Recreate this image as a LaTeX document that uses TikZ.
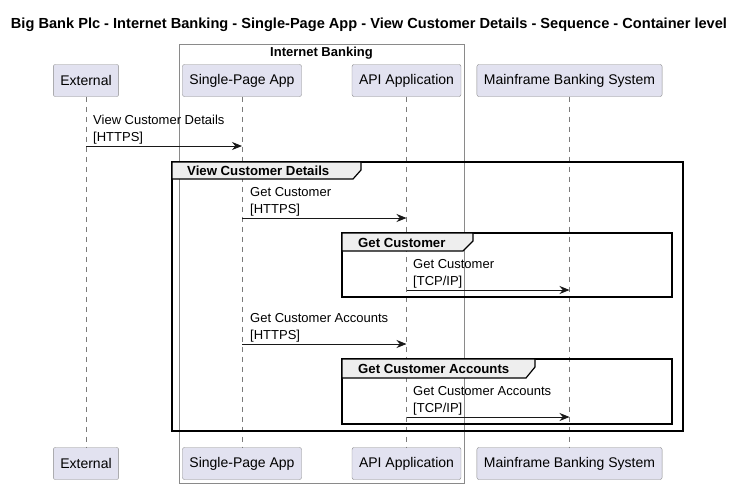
\documentclass[tikz,border=0pt]{standalone}
\usepackage{fontspec}
\setmainfont{Liberation Sans}
\usetikzlibrary{arrows.meta, positioning}

\definecolor{partfill}{HTML}{E2E2F0}
\definecolor{partline}{HTML}{8A8A8A}
\definecolor{lifegray}{HTML}{7A7A7A}
\definecolor{tabfill}{HTML}{EEEEEE}
\definecolor{msgline}{HTML}{181818}

\begin{document}
\begin{tikzpicture}[x=1pt, y=-1pt,
    part/.style={draw=partline, fill=partfill, rounded corners=2pt,
        minimum height=32pt, inner xsep=7pt,
        font=\fontsize{14}{16}\selectfont},
    lifeline/.style={draw=lifegray, line width=0.6pt, dash pattern=on 5pt off 5pt},
    msg/.style={draw=msgline, line width=0.9pt, -{Stealth[length=10pt,width=8pt]}},
    msglbl/.style={anchor=south west, inner sep=0pt, align=left,
        font=\fontsize{13}{17}\selectfont},
    grpframe/.style={draw=black, line width=1.6pt},
    grptab/.style={draw=black, line width=1.2pt, fill=tabfill},
    grplbl/.style={anchor=west, inner sep=0pt,
        font=\bfseries\fontsize{13.2}{15}\selectfont}
]
    \useasboundingbox (0,0) rectangle (747,488);

    % title
    \node[font=\bfseries\fontsize{14.6}{16}\selectfont] (title) at (369,25)
        {Big Bank Plc - Internet Banking - Single-Page App - View Customer Details - Sequence - Container level};

    % boundary box
    \draw[draw=partline, line width=0.8pt] (179,44) rectangle (464,483);
    \node[font=\bfseries\fontsize{13}{15}\selectfont] (ibank) at (321.5,53) {Internet Banking};

    % participants, top and bottom
    \node[part] (ext)  at (86,80.5)  {External};
    \node[part] (spa)  at (242,80.5) {Single-Page App};
    \node[part] (api)  at (406.5,80.5) {API Application};
    \node[part] (mbs)  at (569.5,80.5) {Mainframe Banking System};
    \node[part] (extB) at (86,463.5)   {External};
    \node[part] (spaB) at (242,463.5)  {Single-Page App};
    \node[part] (apiB) at (406.5,463.5) {API Application};
    \node[part] (mbsB) at (569.5,463.5) {Mainframe Banking System};

    \draw[lifeline] (ext) -- (extB);
    \draw[lifeline] (spa) -- (spaB);
    \draw[lifeline] (api) -- (apiB);
    \draw[lifeline] (mbs) -- (mbsB);

    % group frames
    \draw[grpframe] (172,162) rectangle (683,431);
    \filldraw[grptab] (172,162) -- (361,162) -- (361,170) -- (353,179) -- (172,179) -- cycle;
    \node[grplbl] (gView) at (187,171) {View Customer Details};

    \draw[grpframe] (342,233) rectangle (672,297);
    \filldraw[grptab] (342,233) -- (473,233) -- (473,241) -- (463,251) -- (342,251) -- cycle;
    \node[grplbl] (gCust) at (358,242.5) {Get Customer};

    \draw[grpframe] (342,359) rectangle (672,424);
    \filldraw[grptab] (342,359) -- (535,359) -- (535,367) -- (526,378) -- (342,378) -- cycle;
    \node[grplbl] (gAcc) at (358,369) {Get Customer Accounts};

    % messages
    \coordinate (m1) at (0,146);
    \coordinate (m2) at (0,218);
    \coordinate (m3) at (0,290);
    \coordinate (m4) at (0,344);
    \coordinate (m5) at (0,417);

    \draw[msg] (ext |- m1) -- (spa |- m1);
    \node[msglbl] (l1) at (93,144.4) {View Customer Details\\{}[HTTPS]};
    \draw[msg] (spa |- m2) -- (api |- m2);
    \node[msglbl] (l2) at (250,216.4) {Get Customer\\{}[HTTPS]};
    \draw[msg] (api |- m3) -- (mbs |- m3);
    \node[msglbl] (l3) at (413,288.4) {Get Customer\\{}[TCP/IP]};
    \draw[msg] (spa |- m4) -- (api |- m4);
    \node[msglbl] (l4) at (250,342.4) {Get Customer Accounts\\{}[HTTPS]};
    \draw[msg] (api |- m5) -- (mbs |- m5);
    \node[msglbl] (l5) at (413,415.4) {Get Customer Accounts\\{}[TCP/IP]};
\end{tikzpicture}
\end{document}
